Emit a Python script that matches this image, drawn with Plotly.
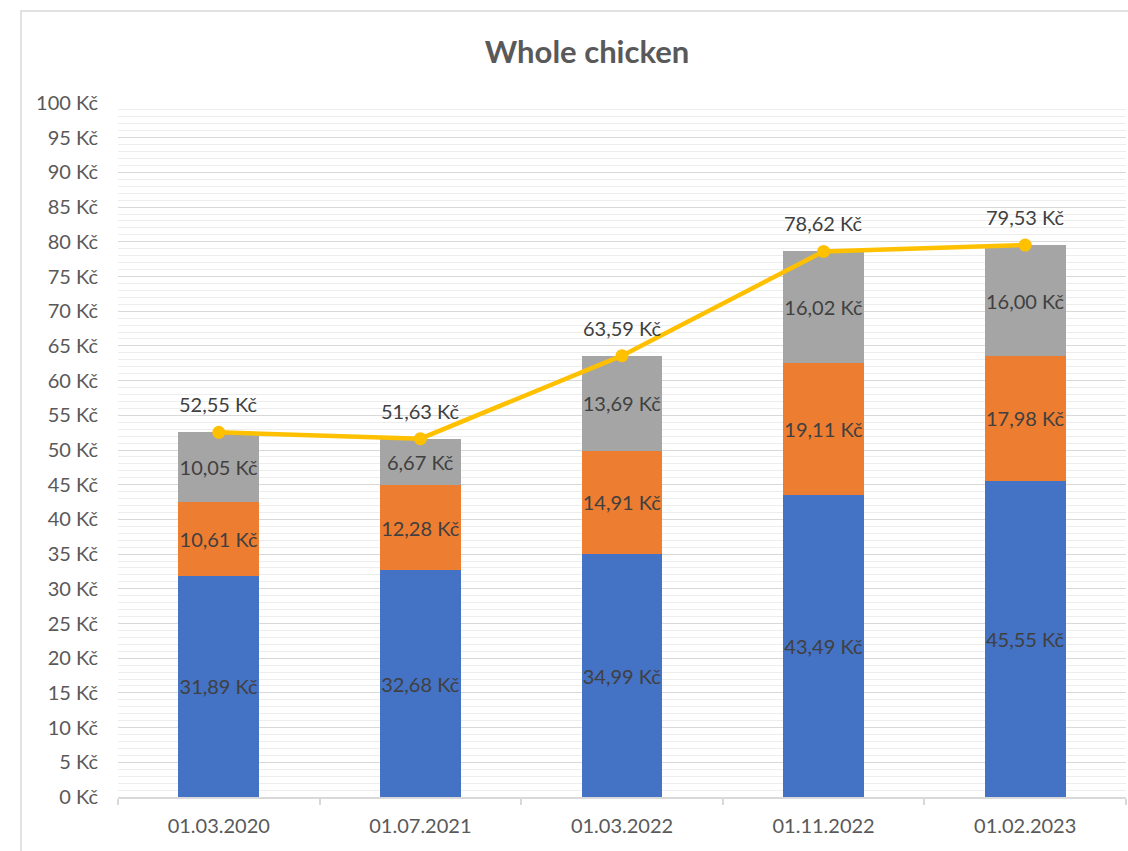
import plotly.graph_objects as go

categories = ["01.03.2020", "01.07.2021", "01.03.2022", "01.11.2022", "01.02.2023"]
series_blue = [31.89, 32.68, 34.99, 43.49, 45.55]
series_orange = [10.61, 12.28, 14.91, 19.11, 17.98]
series_gray = [10.05, 6.67, 13.69, 16.02, 16.00]
totals = [52.55, 51.63, 63.59, 78.62, 79.53]
y_tick_values = list(range(0, 101, 5))
y_tick_labels = [f"{v} Kč" for v in y_tick_values]

FONT = "Lato, 'Liberation Sans', sans-serif"
LABEL_COLOR = "#404040"
AXIS_TEXT = "#595959"

W, H = 1128, 851


def kc(v):
    return f"{v:.2f}".replace(".", ",") + " Kč"


fig = go.Figure()

for vals, color in [(series_blue, "#4472C4"), (series_orange, "#ED7D31"), (series_gray, "#A5A5A5")]:
    fig.add_trace(go.Bar(
        x=categories, y=vals, marker=dict(color=color, line=dict(width=0)),
        texttemplate="%{y:.2f} Kč", textposition="inside", insidetextanchor="middle",
        textfont=dict(family=FONT, size=20, color=LABEL_COLOR),
        textangle=0, constraintext="none", cliponaxis=False, hoverinfo="skip",
        showlegend=False,
    ))

fig.add_trace(go.Scatter(
    x=categories, y=totals, mode="lines+markers",
    line=dict(color="#FFC000", width=4.5),
    marker=dict(color="#FFC000", size=13),
    cliponaxis=False, showlegend=False, hoverinfo="skip",
))

annotations = [
    dict(x=c, y=t, xref="x", yref="y", text=kc(t), showarrow=False,
         yanchor="middle", xanchor="center", yshift=28,
         font=dict(family=FONT, size=20, color=LABEL_COLOR))
    for c, t in zip(categories, totals)
]

fig.update_layout(
    width=W, height=H,
    margin=dict(l=118, r=2, t=103, b=53.5, pad=0),
    paper_bgcolor="white", plot_bgcolor="white",
    barmode="stack", bargap=0.6,
    separators=", ",
    font=dict(family=FONT, color=AXIS_TEXT, size=20),
    title=dict(text="<b>Whole chicken</b>", x=587 / W, xref="container", xanchor="center",
               y=1 - 52 / H, yref="container", yanchor="middle",
               font=dict(family=FONT, size=31, color=AXIS_TEXT)),
    xaxis=dict(
        type="category", showgrid=False, showline=True, linecolor="#D9D9D9", linewidth=1.5,
        ticks="outside", tickson="boundaries", ticklen=6, tickcolor="#D9D9D9", tickwidth=1.5,
        tickfont=dict(family=FONT, size=20, color=AXIS_TEXT), zeroline=False,
        ticklabelstandoff=10,
    ),
    yaxis=dict(
        range=[0, 100], tickvals=y_tick_values, ticktext=y_tick_labels,
        showgrid=True, gridcolor="#D9D9D9", gridwidth=1.2,
        minor=dict(dtick=1, showgrid=True, gridcolor="#EDEDED", gridwidth=1.2),
        zeroline=False, showline=False, ticks="", ticklabelstandoff=19,
        tickfont=dict(family=FONT, size=20, color=AXIS_TEXT),
    ),
    annotations=annotations,
    shapes=[dict(type="rect", xref="paper", yref="paper",
                 x0=(21 - 118) / 1008, x1=1.05, y0=-0.2, y1=1 + (103 - 11) / 694.5,
                 line=dict(color="#D9D9D9", width=1.5), fillcolor="rgba(0,0,0,0)", layer="below")],
)

fig.write_html("out.html", config={"displayModeBar": False},
               post_script="document.body.style.margin='0';document.body.style.overflow='hidden';")
